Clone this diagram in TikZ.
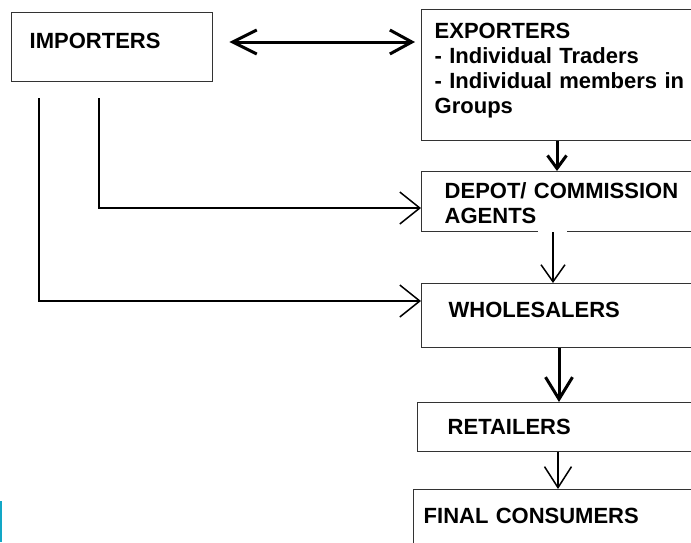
\documentclass[tikz,border=0pt]{standalone}
\usepackage{fontspec}
\setmainfont{Liberation Sans}
\usetikzlibrary{arrows.meta}
\definecolor{boxline}{HTML}{333333}
\definecolor{edgemark}{HTML}{12A7C6}

\begin{document}
\begin{tikzpicture}[
    x=1pt, y=-1pt,
    box/.style={draw=boxline, line width=1.4pt, anchor=north west, inner ysep=0pt, align=left,
        font=\bfseries\fontsize{22}{25}\selectfont},
    flow/.style={line width=1.5pt, -{Straight Barb[length=20pt, width=32pt]}},
    heavy/.style={line width=3pt, -{Straight Barb[length=22pt, width=27pt]}},
    both/.style={line width=3pt, {Straight Barb[length=24pt, width=24pt]}-{Straight Barb[length=22pt, width=24pt]}}
]
\useasboundingbox (0,0) rectangle (691,542);
\clip (0,0) rectangle (691,542);

\node[box, inner xsep=18pt, text width=165pt, minimum height=69pt, text height=16pt, text depth=13pt] (imp) at (11,12) {IMPORTERS};
\node[box, inner xsep=13pt, text width=264pt, minimum height=131pt, text height=16pt, text depth=89pt] (exp) at (421,9)
    {EXPORTERS\\- Individual Traders\\- Individual members in\\Groups};
\node[box, inner xsep=23pt, text width=244pt, minimum height=60pt, text height=16pt, text depth=22pt] (dep) at (421,171)
    {DEPOT/ COMMISSION\\AGENTS};
\node[box, inner xsep=27pt, text width=236pt, minimum height=64pt, text height=16pt, text depth=12pt] (whole) at (421,283) {WHOLESALERS};
\node[box, inner xsep=30pt, text width=234pt, minimum height=49pt, text height=16pt, text depth=2pt] (ret) at (417,402) {RETAILERS};
\node[box, inner xsep=10pt, text width=278pt, minimum height=60pt, text height=16pt, text depth=8pt] (cons) at (413,489) {FINAL CONSUMERS};

% trade links
\draw[both, shorten <=16pt, shorten >=6pt] (imp.east |- 0,42) -- (exp.west |- 0,42);
\draw[flow, shorten <=16pt] (imp.south -| 99,0) |- (dep.west |- 0,208);
\draw[flow, shorten <=16pt] (imp.south -| 39,0) |- (whole.west |- 0,301);

% chain down
\draw[heavy, -{Straight Barb[length=13pt, width=19pt]}] (exp.south -| 557,0) -- (dep.north -| 557,0);
\draw[white, line width=3pt] (dep.south -| 538,0) -- (dep.south -| 567,0);
\draw[flow, -{Straight Barb[length=17pt, width=24pt]}] (dep.south -| 553,0) -- (whole.north -| 553,0);
\draw[heavy] (whole.south -| 559,0) -- (ret.north -| 559,0);
\draw[flow, -{Straight Barb[length=21pt, width=27pt]}] (ret.south -| 558,0) -- (cons.north -| 558,0);

\fill[edgemark] (0,501) rectangle (1.5,542);
\end{tikzpicture}
\end{document}
